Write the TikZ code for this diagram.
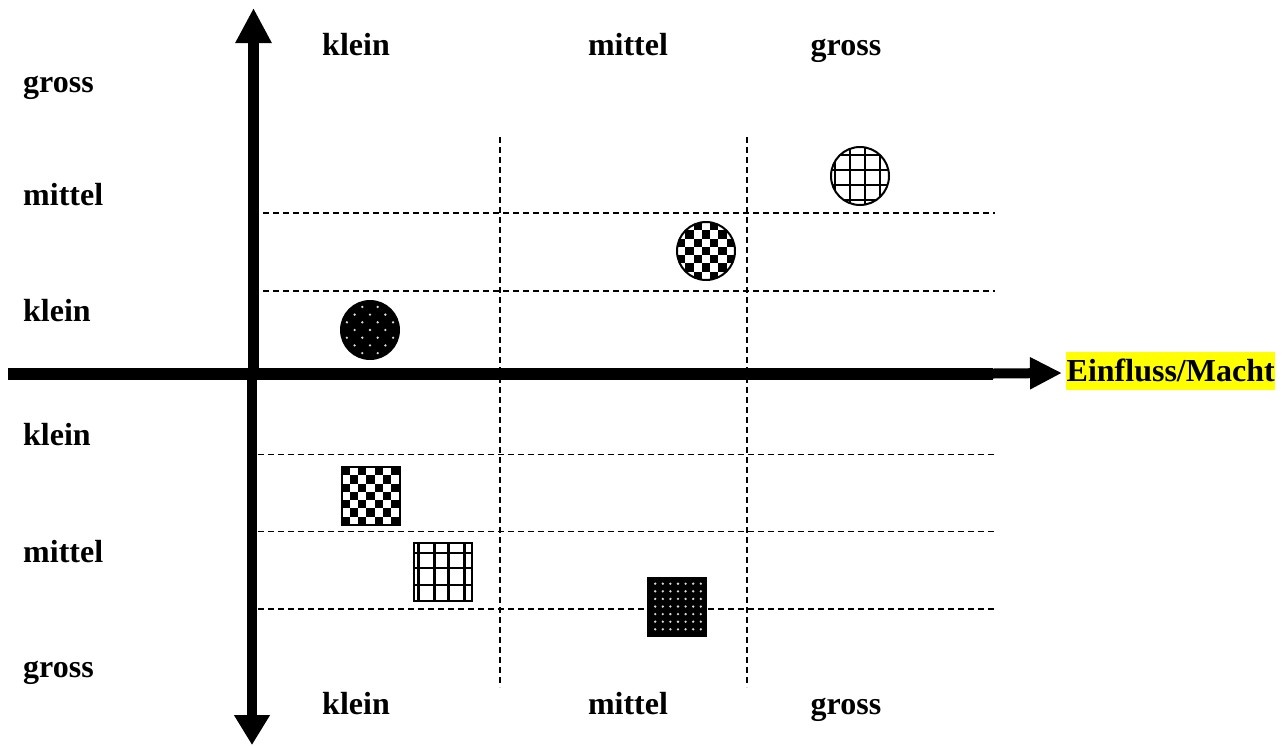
\documentclass[tikz,border=0pt]{standalone}
\usepackage{fontspec}
\setmainfont{Liberation Serif}
\usetikzlibrary{arrows.meta}
\definecolor{hl}{RGB}{255,255,0}
\tikzset{
  lbl/.style={inner sep=0pt, font=\fontsize{32}{38}\selectfont\bfseries},
  grd/.style={black, dash pattern=on 6pt off 4pt, line width=1.5pt},
  axis/.style={line width=11pt, draw=black},
  shp/.style={draw=black, line width=2pt, inner sep=0pt, minimum size=58pt},
  checker/.style={path picture={
    \begin{scope}[shift={(path picture bounding box.center)}]
    \foreach \i in {-3,...,3}{\foreach \j in {-3,...,3}{
      \pgfmathtruncatemacro\pp{mod(\i+\j+10,2)}
      \ifnum\pp=0 \fill[black] (\i*8.3-4.15,\j*8.3-4.15) rectangle ++(8.3,8.3);\fi
    }}
    \end{scope}}},
  gridc/.style={path picture={
    \begin{scope}[shift={(path picture bounding box.center)}]
    \foreach \v in {-25,-10,5,20}{\draw[line width=2.6pt] (\v,-40) -- (\v,40);}
    \foreach \h in {-21,-6,9,24}{\draw[line width=2.6pt] (-40,\h) -- (40,\h);}
    \end{scope}}},
  grids/.style={path picture={
    \begin{scope}[shift={(path picture bounding box.center)}]
    \foreach \v in {-24,-8,6,22}{\draw[line width=2.6pt] (\v,-40) -- (\v,40);}
    \foreach \h in {-19,-4,13}{\draw[line width=2.6pt] (-40,\h) -- (40,\h);}
    \end{scope}}},
  dotsc/.style={fill=black, path picture={
    \begin{scope}[shift={(path picture bounding box.center)}]
    \foreach \i in {-4,...,4}{\foreach \j in {-4,...,4}{
      \pgfmathtruncatemacro\pp{mod(\i+\j+10,2)}
      \ifnum\pp=0 \fill[white!85!black] (\i*7.7,\j*7.7) circle (1.3);\fi
    }}
    \end{scope}}},
  dotss/.style={fill=black, path picture={
    \begin{scope}[shift={(path picture bounding box.center)}]
    \foreach \i in {-4,...,4}{\foreach \j in {-4,...,4}{
      \fill[white!85!black] (\i*7.6+1,\j*7.6) circle (1.3);
    }}
    \end{scope}}}
}
\begin{document}
\begin{tikzpicture}[x=1pt,y=-1pt]
\useasboundingbox (0,0) rectangle (1287,745);
% dashed grid
\coordinate (v1t) at (500,137); \coordinate (v1b) at (500,687);
\coordinate (v2t) at (747,137); \coordinate (v2b) at (747,687);
\draw[grd] (v1t) -- (v1b);
\draw[grd] (v2t) -- (v2b);
\coordinate (h1a) at (263,213); \coordinate (h1b) at (995,213);
\coordinate (h2a) at (263,291); \coordinate (h2b) at (995,291);
\coordinate (h3a) at (258,454.5); \coordinate (h3b) at (995,454.5);
\coordinate (h4a) at (258,531.5); \coordinate (h4b) at (995,531.5);
\coordinate (h5a) at (258,609); \coordinate (h5b) at (995,609);
\draw[grd] (h1a) -- (h1b);
\draw[grd] (h2a) -- (h2b);
\draw[grd] (h3a) -- (h3b);
\draw[grd] (h4a) -- (h4b);
\draw[grd] (h5a) -- (h5b);
% axes
\coordinate (uS) at (253.5,378); \coordinate (uT) at (253.5,8);
\coordinate (dS) at (252,370); \coordinate (dT) at (252,745);
\coordinate (hS) at (8,373.5); \coordinate (hM) at (993,373.5); \coordinate (hT) at (1062,373);
\draw[axis, -{Triangle[length=35pt,width=34pt]}] (uS) -- (uT);
\draw[axis, line width=10.5pt, -{Triangle[length=30pt,width=34pt]}] (dS) -- (dT);
\draw[axis, line width=12pt] (hS) -- (hM);
\draw[axis, line width=10pt, -{Triangle[length=32pt,width=30pt]}] (hM) -- (hT);
\node[lbl, fill=hl, inner xsep=0.5pt, text height=29pt, text depth=9pt, anchor=west] (lab) at (1066,371) {Einfluss/Macht};
% top labels
\node[lbl, anchor=base] (tk) at (356,55) {klein};
\node[lbl, anchor=base] (tm) at (628,55) {mittel};
\node[lbl, anchor=base] (tg) at (846,55) {gross};
% bottom labels
\node[lbl, anchor=base] (bk) at (356,714) {klein};
\node[lbl, anchor=base] (bm) at (628,714) {mittel};
\node[lbl, anchor=base] (bg) at (846,714) {gross};
% left labels
\node[lbl, anchor=base west] (l1) at (23,92) {gross};
\node[lbl, anchor=base west] (l2) at (23,205) {mittel};
\node[lbl, anchor=base west] (l3) at (23,321.5) {klein};
\node[lbl, anchor=base west] (l4) at (23,445) {klein};
\node[lbl, anchor=base west] (l5) at (23,562.5) {mittel};
\node[lbl, anchor=base west] (l6) at (23,677) {gross};
% shapes
\node[shp, circle, fill=white, gridc] (c1) at (860,176) {};
\node[shp, circle, fill=white, checker] (c2) at (706,251) {};
\node[shp, circle, dotsc] (c3) at (370,330) {};
\node[shp, rectangle, fill=white, checker] (s1) at (370.5,496) {};
\node[shp, rectangle, fill=white, grids] (s2) at (442.5,572) {};
\node[shp, rectangle, dotss] (s3) at (677,606.5) {};
\end{tikzpicture}
\end{document}
